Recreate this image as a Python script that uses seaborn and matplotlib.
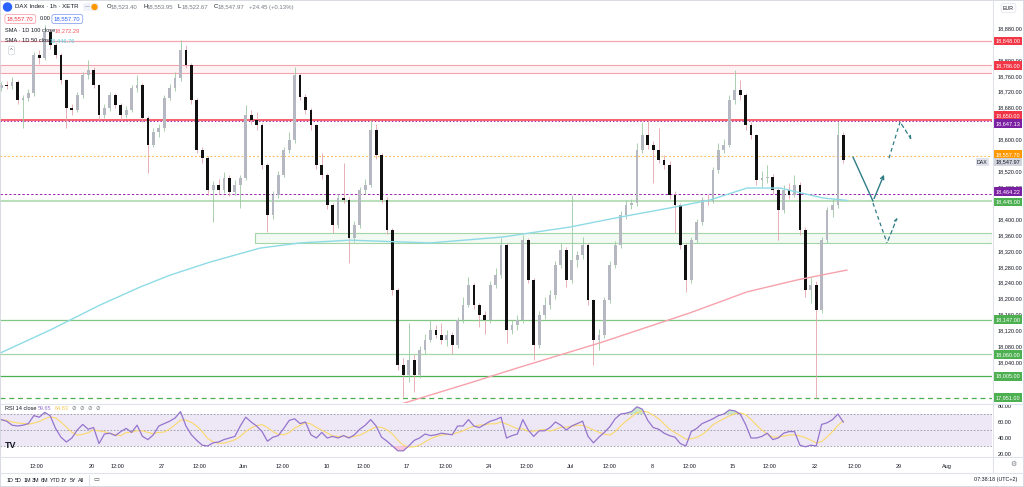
import numpy as np
import pandas as pd
import matplotlib
matplotlib.use("Agg")
import matplotlib.pyplot as plt
import matplotlib.transforms as mtrans
from matplotlib.patches import Rectangle, FancyBboxPatch, Ellipse
from matplotlib.lines import Line2D
import seaborn as sns

# ---------------- data ----------------
first_open = 18730
close = [18737, 18734, 18744, 18699, 18704, 18717, 18812, 18805, 18870, 18837,
         18812, 18749, 18679, 18674, 18712, 18762, 18775, 18737, 18662, 18679,
         18712, 18687, 18662, 18674, 18729, 18737, 18654, 18586, 18619, 18629,
         18704, 18729, 18755, 18825, 18787, 18699, 18574, 18553, 18473, 18486,
         18473, 18503, 18468, 18486, 18503, 18662, 18649, 18636, 18536, 18410,
         18460, 18511, 18574, 18599, 18762, 18707, 18674, 18636, 18536, 18511,
         18435, 18385, 18453, 18448, 18352, 18385, 18473, 18486, 18624, 18561,
         18448, 18373, 18222, 18033, 18008, 18046, 18008, 18071, 18096, 18121,
         18109, 18096, 18109, 18083, 18146, 18184, 18234, 18184, 18159, 18146,
         18234, 18259, 18335, 18121, 18134, 18146, 18347, 18247, 18083, 18159,
         18184, 18209, 18285, 18322, 18247, 18297, 18310, 18335, 18197, 18096,
         18109, 18197, 18285, 18335, 18410, 18435, 18440, 18574, 18611, 18586,
         18574, 18548, 18536, 18460, 18435, 18335, 18247, 18347, 18393, 18448,
         18445, 18523, 18574, 18586, 18699, 18724, 18712, 18636, 18611, 18498,
         18502, 18506, 18473, 18423, 18473, 18460, 18486, 18373, 18222, 18234,
         18171, 18347, 18423, 18435, 18611, 18547.97]
high = [18745, 18748, 18756, 18750, 18712, 18726, 18820, 18825, 18888, 18878,
        18842, 18818, 18752, 18690, 18720, 18770, 18800, 18782, 18740, 18690,
        18720, 18718, 18692, 18685, 18737, 18762, 18742, 18660, 18630, 18640,
        18712, 18740, 18770, 18850, 18838, 18792, 18705, 18580, 18558, 18495,
        18500, 18518, 18510, 18498, 18510, 18687, 18675, 18670, 18642, 18540,
        18470, 18520, 18582, 18620, 18782, 18768, 18715, 18680, 18640, 18566,
        18515, 18440, 18462, 18541, 18455, 18395, 18480, 18500, 18649, 18640,
        18566, 18455, 18378, 18228, 18050, 18140, 18060, 18080, 18110, 18146,
        18135, 18140, 18120, 18115, 18155, 18205, 18254, 18240, 18190, 18170,
        18245, 18278, 18352, 18340, 18146, 18160, 18360, 18352, 18252, 18170,
        18205, 18222, 18295, 18340, 18330, 18460, 18320, 18355, 18340, 18200,
        18125, 18205, 18295, 18345, 18420, 18448, 18450, 18590, 18644, 18649,
        18595, 18630, 18560, 18545, 18470, 18440, 18340, 18355, 18400, 18455,
        18462, 18530, 18590, 18600, 18712, 18775, 18750, 18718, 18645, 18615,
        18520, 18536, 18512, 18480, 18485, 18490, 18511, 18492, 18380, 18254,
        18245, 18355, 18430, 18450, 18644, 18620]
low = [18722, 18726, 18728, 18690, 18629, 18696, 18710, 18790, 18800, 18828,
       18805, 18740, 18629, 18662, 18668, 18705, 18752, 18730, 18650, 18655,
       18672, 18678, 18650, 18655, 18668, 18720, 18645, 18517, 18580, 18605,
       18622, 18698, 18722, 18748, 18780, 18690, 18565, 18540, 18460, 18393,
       18462, 18465, 18458, 18460, 18428, 18498, 18640, 18625, 18525, 18368,
       18400, 18452, 18505, 18565, 18592, 18700, 18665, 18625, 18525, 18500,
       18425, 18365, 18378, 18440, 18290, 18342, 18378, 18462, 18480, 18552,
       18440, 18362, 18210, 18020, 17953, 17990, 17965, 18000, 18060, 18090,
       18100, 18085, 18080, 18060, 18075, 18140, 18178, 18175, 18130, 18110,
       18140, 18228, 18252, 18089, 18110, 18120, 18140, 18240, 18046, 18075,
       18150, 18175, 18200, 18278, 18230, 18240, 18280, 18300, 18185, 18033,
       18070, 18100, 18190, 18278, 18328, 18400, 18425, 18432, 18565, 18575,
       18491, 18540, 18525, 18450, 18365, 18325, 18217, 18240, 18340, 18385,
       18435, 18440, 18515, 18566, 18580, 18690, 18700, 18625, 18600, 18485,
       18480, 18490, 18462, 18347, 18415, 18450, 18455, 18360, 18205, 18190,
       17950, 18165, 18340, 18405, 18428, 18540]
rsi = [63, 61, 56, 55, 56, 58, 68, 66, 72, 68,
       52, 41, 35, 40, 50, 57, 51, 53, 33, 45,
       46, 43, 48, 52, 47, 56, 42, 38, 44, 55,
       58, 61, 65, 73, 55, 44, 37, 31, 30, 34,
       35, 38, 40, 42, 55, 66, 60, 55, 48, 36,
       41, 43, 52, 62, 64, 58, 60, 44, 40, 47,
       40, 42, 40, 43, 40, 44, 51, 56, 63, 55,
       41, 36, 30, 24, 24, 30, 37, 40, 45, 43,
       44, 46, 45, 44, 55, 55, 63, 55, 53, 57,
       61, 63, 66, 40, 43, 45, 63, 50, 42, 49,
       49, 53, 60, 56, 50, 55, 58, 61, 42, 34,
       41, 47, 54, 64, 70, 71, 73, 79, 76, 62,
       53, 51, 46, 43, 41, 33, 30, 48, 52, 58,
       61, 64, 68, 70, 75, 74, 70, 57, 40, 40,
       42, 46, 38, 40, 46, 48, 48, 31, 29, 31,
       30, 57, 59, 63, 70, 59.65]

sma50_days = [0.09, 3.16, 6.23, 8.68, 10.52, 12.98, 16.04, 18.5, 21.56, 26.47,
              30.95, 35.06, 38.13, 41.2, 43.65, 45.92, 47.94, 48.99, 50.58, 52.06]
sma50_vals = [18063, 18121, 18184, 18229, 18259, 18292, 18327, 18340, 18347, 18340,
              18355, 18380, 18405, 18428, 18448, 18478, 18478, 18468, 18453, 18447]
sma100_days = [21.6, 25.55, 28.9, 32.0, 36.9, 42.4, 45.92, 48.99, 52.06]
sma100_vals = [17896, 17946, 17988, 18028, 18089, 18164, 18217, 18247, 18272]

tick_labels = ["12:00", "20", "12:00", "27", "12:00", "Jun", "12:00", "10", "12:00", "17",
               "12:00", "24", "12:00", "Jul", "12:00", "8", "12:00", "15", "12:00", "22",
               "12:00", "29", "Aug"]
tick_days = [2.36, 5.7, 7.33, 10.03, 12.36, 15.0, 17.45, 20.15, 22.4, 25.06,
             27.45, 30.1, 32.4, 35.06, 37.5, 40.1, 42.4, 45.06, 47.3, 50.1,
             52.5, 55.2, 58.2]
price_ticks = [18880, 18800, 18760, 18720, 18680, 18600, 18520, 18480, 18400, 18360,
               18320, 18280, 18240, 18200, 18160, 18120, 18080, 18040]
rsi_ticks = [80, 60, 40, 20]

# projection sketch (day, price)
proj_solid = [(52.42, 18556), (53.65, 18445), (54.39, 18518)]
proj_dash1 = [(53.65, 18440), (54.51, 18340), (55.2, 18410)]
proj_dash2 = [(54.63, 18553), (55.31, 18644), (56.1, 18594)]

# ---------------- figure ----------------
sns.set_theme(style="white")
plt.rcParams['font.family'] = ['Liberation Sans', 'DejaVu Sans']

W, H = 1024, 487
fig = plt.figure(figsize=(W / 100, H / 100), dpi=100)
fig.patch.set_facecolor('white')


def fx(px):
    return px / W


def fy(py):
    return 1 - py / H


ax = fig.add_axes([0, fy(403), fx(992), 403 / H])
axr = fig.add_axes([0, fy(456), fx(992), 53 / H], sharex=ax)
for a in (ax, axr):
    a.set_facecolor('white')
    for s in a.spines.values():
        s.set_visible(False)
    a.grid(False)

XMIN, XMAX = 0.092, 60.95
ax.set_xlim(XMIN, XMAX)
ax.set_ylim(17937.8, 18950.5)
axr.set_ylim(17.5, 83.75)

df = pd.DataFrame({'close': close, 'high': high, 'low': low})
df['open'] = df['close'].shift(1).fillna(first_open)
df['x'] = np.arange(len(df)) / 3 + 1 / 6
df['up'] = df['close'] >= df['open']

UP_BODY, DN_BODY = '#b5b8c0', '#111111'
UP_WICK, DN_WICK = '#9cc9a2', '#e3a3ab'

# levels / zones (behind candles)
trans = mtrans.blended_transform_factory(ax.transAxes, ax.transData)
ax.add_patch(Rectangle((0, 18766), 1, 20, transform=trans, fc='#fef3f4', ec='#f5a3ab', lw=0.8, zorder=1))
ax.add_patch(Rectangle((15.74, 18340), XMAX - 15.74, 25, fc='#f3f9f3', ec='#a5d6a7', lw=0.8, zorder=1))
ax.axhline(18848, color='#f7a5ad', lw=0.9, zorder=1)
ax.axhline(18650, color='#f23645', lw=1.1, zorder=1)
ax.axhline(18647.13, color='#9c27b0', lw=0.7, ls=(0, (1.5, 2)), zorder=1)
ax.axhline(18557.70, color='#ffb74d', lw=0.8, ls=(0, (1.5, 2)), zorder=1)
ax.axhline(18464.22, color='#9c27b0', lw=0.7, ls=(0, (2.5, 2)), zorder=1)
ax.axhline(18445, color='#a5d6a7', lw=1.1, zorder=1)
ax.axhline(18147, color='#81c784', lw=0.9, zorder=1)
ax.axhline(18060, color='#a5d6a7', lw=0.9, zorder=1)
ax.axhline(18005, color='#4caf50', lw=0.9, zorder=1)
ax.axhline(17951, color='#4caf50', lw=0.9, ls=(0, (4, 3)), zorder=1)

# candles
for is_up, wick_c, body_c in ((True, UP_WICK, UP_BODY), (False, DN_WICK, DN_BODY)):
    d = df[df['up'] == is_up]
    ax.vlines(d['x'], d['low'], d['high'], color=wick_c, lw=0.6, zorder=3)
    bottom = np.minimum(d['open'], d['close'])
    height = np.maximum(np.abs(d['close'] - d['open']), 2.0)
    ax.bar(d['x'], height, bottom=bottom, width=0.17, color=body_c, lw=0, zorder=4)

# moving averages
sma50 = pd.DataFrame({'day': sma50_days, 'value': sma50_vals})
sma100 = pd.DataFrame({'day': sma100_days, 'value': sma100_vals})
sns.lineplot(data=sma50, x='day', y='value', ax=ax, color='#8edbe6', lw=1.0, zorder=5)
sns.lineplot(data=sma100, x='day', y='value', ax=ax, color='#f7a1ac', lw=1.0, zorder=5)

# projection sketch
TEAL = '#2f7c86'
xs, ys = zip(*proj_solid)
ax.plot(xs[:2], ys[:2], color=TEAL, lw=1.0, zorder=6)
ax.annotate('', xy=proj_solid[2], xytext=proj_solid[1],
            arrowprops=dict(arrowstyle='->', color=TEAL, lw=1.0, mutation_scale=6), zorder=6)
for path in (proj_dash1, proj_dash2):
    xs, ys = zip(*path)
    ax.plot(xs[:2], ys[:2], color=TEAL, lw=0.9, ls=(0, (3, 2.5)), zorder=6)
    ax.annotate('', xy=path[2], xytext=path[1],
                arrowprops=dict(arrowstyle='->', color=TEAL, lw=0.9, ls=(0, (3, 2.5)),
                                mutation_scale=5), zorder=6)

ax.set_xlabel('')
ax.set_ylabel('')

# right price axis
ax.yaxis.tick_right()
ax.set_yticks(price_ticks)
ax.set_yticklabels([f"{v:,.2f}" for v in price_ticks])
ax.tick_params(axis='y', length=0, pad=4, labelsize=4.0, colors='#131722')
ax.tick_params(axis='x', bottom=False, labelbottom=False)


def pbox(price, text, fc, tc='white', dy=0.0):
    ax.annotate(text, xy=(1.0, price), xycoords=trans, xytext=(2.6, -dy * 0.72),
                textcoords='offset points', ha='left', va='center', fontsize=4.0,
                color=tc, annotation_clip=False, zorder=20,
                bbox=dict(boxstyle='square,pad=0.32', fc=fc, ec='none'))


pbox(18848, "18,848.00", '#f23645')
pbox(18786, "18,786.00", '#f23645')
pbox(18650, "18,650.00", '#f23645', dy=-4)
pbox(18647.13, "18,647.13", '#7b1fa2', dy=3)
pbox(18557.70, "18,557.70", '#ff9800', dy=-2)
pbox(18547.97, "18,547.97", '#d1d4dc', tc='#131722', dy=2)
pbox(18464.22, "18,464.22", '#7b1fa2', dy=-2)
pbox(18445, "18,445.00", '#4caf50', dy=1)
pbox(18147, "18,147.00", '#4caf50')
pbox(18060, "18,060.00", '#4caf50')
pbox(18005, "18,005.00", '#4caf50')
pbox(17951, "17,951.00", '#4caf50')
ax.annotate("DAX", xy=(1.0, 18547.97), xycoords=trans, xytext=(-3, -1.4),
            textcoords='offset points', ha='right', va='center', fontsize=3.8,
            color='#131722', annotation_clip=False, zorder=20,
            bbox=dict(boxstyle='square,pad=0.3', fc='#e0e3eb', ec='none'))

# ---------------- RSI pane ----------------
rsi_df = pd.DataFrame({'x': df['x'], 'rsi': rsi})
rsi_df['ma'] = rsi_df['rsi'].rolling(5, min_periods=1).mean()
axr.axhspan(30, 70, color='#ede7f6', lw=0, zorder=0)
for lvl in (70, 50, 30):
    axr.axhline(lvl, color='#9598a1', lw=0.6, ls=(0, (2, 2)), zorder=1)
r = rsi_df['rsi'].to_numpy(dtype=float)
axr.fill_between(rsi_df['x'], 70, r, where=r > 70, interpolate=True, color='#a5d6a7', alpha=0.6, lw=0)
axr.fill_between(rsi_df['x'], 30, r, where=r < 30, interpolate=True, color='#f8bbd0', alpha=0.8, lw=0)
sns.lineplot(data=rsi_df, x='x', y='ma', ax=axr, color='#fbd96a', lw=0.8, zorder=3)
sns.lineplot(data=rsi_df, x='x', y='rsi', ax=axr, color='#9575cd', lw=0.9, zorder=4)
axr.set_xlabel('')
axr.set_ylabel('')
axr.yaxis.tick_right()
axr.set_yticks(rsi_ticks)
axr.set_yticklabels([f"{v:.2f}" for v in rsi_ticks])
axr.tick_params(axis='y', length=0, pad=4, labelsize=4.0, colors='#131722')
axr.set_xticks(tick_days)
axr.set_xticklabels(tick_labels)
axr.tick_params(axis='x', length=0, pad=5.5, labelsize=4.0, colors='#131722')
ax.set_xlim(XMIN, XMAX)

# ---------------- chrome / separators ----------------
SEP = '#e0e3eb'
for yy in (403.5, 456.5, 472.5):
    fig.add_artist(Line2D([0, 1], [fy(yy), fy(yy)], color=SEP, lw=0.8))
fig.add_artist(Line2D([fx(992.5), fx(992.5)], [fy(0), fy(472.5)], color=SEP, lw=0.8))
fig.add_artist(Rectangle((0, 0), 1, 1, transform=fig.transFigure, fill=False, ec='#d1d4dc', lw=1.2))


def ftxt(xp, yp, s, **kw):
    kw.setdefault('fontsize', 4.3)
    kw.setdefault('color', '#131722')
    kw.setdefault('va', 'center')
    fig.text(fx(xp), fy(yp), s, **kw)


# header row 1
fig.add_artist(Ellipse((fx(7.5), fy(7)), 8 / W, 8 / H, transform=fig.transFigure, color='#2962ff'))
ftxt(15, 7, "DAX Index · 1h · XETR", fontsize=4.4)
fig.add_artist(FancyBboxPatch((fx(83), fy(11)), 16 / W, 8 / H, transform=fig.transFigure,
                              boxstyle='round,pad=0,rounding_size=0.003', fc='#f0f3fa', ec='none'))
ftxt(85, 7, "—", fontsize=3.5, color='#787b86')
fig.add_artist(Ellipse((fx(94.5), fy(7)), 5 / W, 5 / H, transform=fig.transFigure, color='#ff9800'))
for xp, letter, val in ((107, "O", "18,523.40"), (143, "H", "18,553.95"),
                        (178, "L", "18,522.67"), (213.5, "C", "18,547.97")):
    ftxt(xp, 7, letter, fontsize=4.3)
    ftxt(xp + 3.6, 7, val, fontsize=4.3, color='#787b86')
ftxt(249, 7, "+24.45 (+0.13%)", fontsize=4.3, color='#787b86')

# header row 2
ftxt(7, 19, "18,557.70", fontsize=4.3, color='#f23645',
     bbox=dict(boxstyle='round,pad=0.35,rounding_size=0.4', fc='white', ec='#f7a5ad', lw=0.6))
ftxt(40, 19, "0.00", fontsize=4.0, color='#131722')
ftxt(54, 19, "18,557.70", fontsize=4.3, color='#2962ff',
     bbox=dict(boxstyle='round,pad=0.35,rounding_size=0.4', fc='white', ec='#90a4f7', lw=0.6))

# indicator legends
ftxt(5, 31, "SMA · 1D 100 close", fontsize=4.1)
ftxt(55, 31, "18,272.29", fontsize=4.1, color='#f7525f')
ftxt(5, 41, "SMA · 1D 50 close", fontsize=4.1)
ftxt(50, 41, "18,446.76", fontsize=4.1, color='#4dd0e1')
ftxt(11.5, 50.5, "^", fontsize=4.2, ha='center', color='#555555',
     bbox=dict(boxstyle='round,pad=0.3,rounding_size=0.3', fc='white', ec='#d1d4dc', lw=0.5))

ftxt(5, 409, "RSI 14 close", fontsize=4.0)
ftxt(38, 409, "59.65", fontsize=4.0, color='#9575cd')
ftxt(55, 409, "64.83", fontsize=4.0, color='#f9c74f')
for i in range(4):
    ftxt(72 + 8 * i, 409, "⊘", fontsize=4.0, color='#787b86')
ftxt(5, 446, "TV", fontsize=6.5, fontweight='heavy')

# top-right currency & bottom bar
ftxt(1003, 8, "EUR", fontsize=3.8,
     bbox=dict(boxstyle='round,pad=0.35,rounding_size=0.3', fc='white', ec='#e0e3eb', lw=0.5))
ftxt(1013, 464, "⚙", fontsize=5, ha='center', color='#787b86')
for xp, lab in ((7, "1D"), (15, "5D"), (23.5, "1M"), (32, "3M"), (40.5, "6M"),
                (49.5, "YTD"), (61, "1Y"), (69.5, "5Y"), (78, "All")):
    ftxt(xp, 480, lab, fontsize=3.9)
fig.add_artist(Line2D([fx(88.5), fx(88.5)], [fy(475), fy(485)], color=SEP, lw=0.8))
ftxt(93, 480, "▭", fontsize=4.5, color='#555555')
ftxt(1017, 480, "07:38:18 (UTC+2)", fontsize=3.9, ha='right')

fig.savefig("out.png", dpi=100, facecolor='white')
